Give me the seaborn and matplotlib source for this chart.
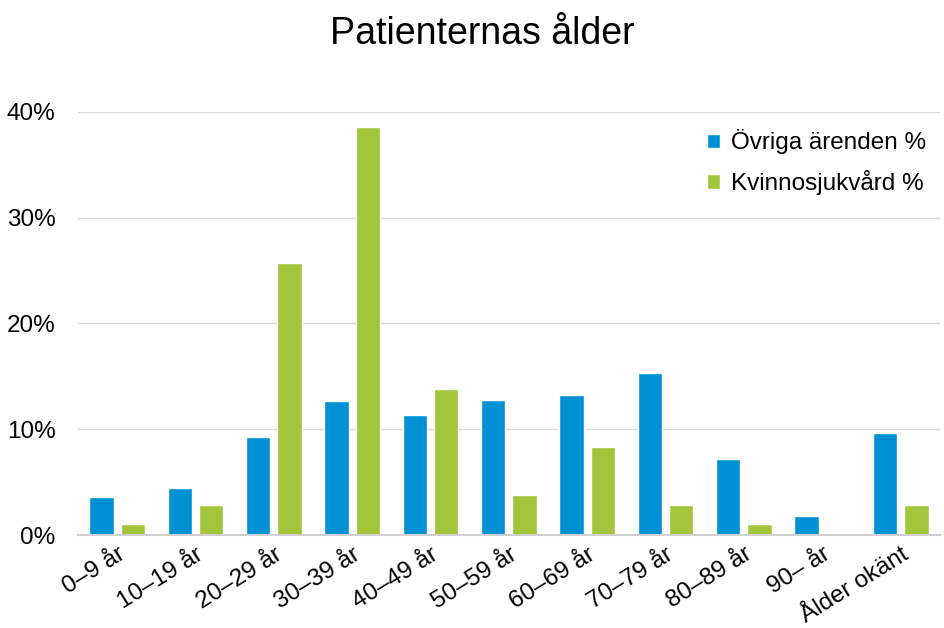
import numpy as np
import pandas as pd
import matplotlib
matplotlib.use('Agg')
import matplotlib.pyplot as plt
import seaborn as sns
from matplotlib.ticker import FuncFormatter

#%% data
categories = ['0–9 år', '10–19 år', '20–29 år', '30–39 år', '40–49 år', '50–59 år',
              '60–69 år', '70–79 år', '80–89 år', '90– år', 'Ålder okänt']
ovriga = [3.6, 4.4, 9.3, 12.7, 11.3, 12.8, 13.2, 15.3, 7.2, 1.8, 9.6]
kvinno = [1.0, 2.8, 25.7, 38.6, 13.8, 3.8, 8.3, 2.8, 1.0, 0.0, 2.8]
series_names = ['Övriga ärenden %', 'Kvinnosjukvård %']
colors = ['#0091d5', '#a2c53b']

df = pd.DataFrame({'kategori': categories * 2,
                   'serie': [series_names[0]] * len(categories) + [series_names[1]] * len(categories),
                   'andel': ovriga + kvinno})

#%% plot
sns.set_style('white')
plt.rcParams['font.family'] = ['Liberation Sans', 'DejaVu Sans']
plt.rcParams['text.color'] = 'black'
plt.rcParams['xtick.color'] = 'black'
plt.rcParams['ytick.color'] = 'black'

fig = plt.figure(figsize=(9.45, 6.28), dpi=100)
ax = fig.add_axes([0.0825, 0.148, 0.912, 0.674])
sns.barplot(data=df, x='kategori', y='andel', hue='serie', palette=colors,
            width=0.8, gap=0.22, ax=ax, saturation=1, legend=True)

ax.set_ylim(0, 40)
ax.set_xlim(-0.5, len(categories) - 0.5)
ax.set_yticks([0, 10, 20, 30, 40])
ax.yaxis.set_major_formatter(FuncFormatter(lambda v, p: '%d%%' % v))
ax.grid(axis='y', color='#d9d9d9', linewidth=1)
ax.set_axisbelow(True)
for s in ['top', 'right', 'left']:
    ax.spines[s].set_visible(False)
ax.spines['bottom'].set_color('#d0d0d0')
ax.spines['bottom'].set_linewidth(1.5)
ax.tick_params(axis='y', labelsize=17.5, length=0, pad=16)
ax.tick_params(axis='x', labelsize=17.5, length=0, pad=6)
plt.setp(ax.get_xticklabels(), rotation=32, ha='right', rotation_mode='anchor')
ax.set_xlabel('')
ax.set_ylabel('')

fig.suptitle('Patienternas ålder', fontsize=27, x=0.51, y=0.975, color='black')

ax.legend(title=None, frameon=False, fontsize=17.5, loc='upper right',
          bbox_to_anchor=(1.01, 1.01), handlelength=0.55, handleheight=0.55,
          handletextpad=0.45, labelspacing=0.65)

fig.savefig('out.png', dpi=100)
